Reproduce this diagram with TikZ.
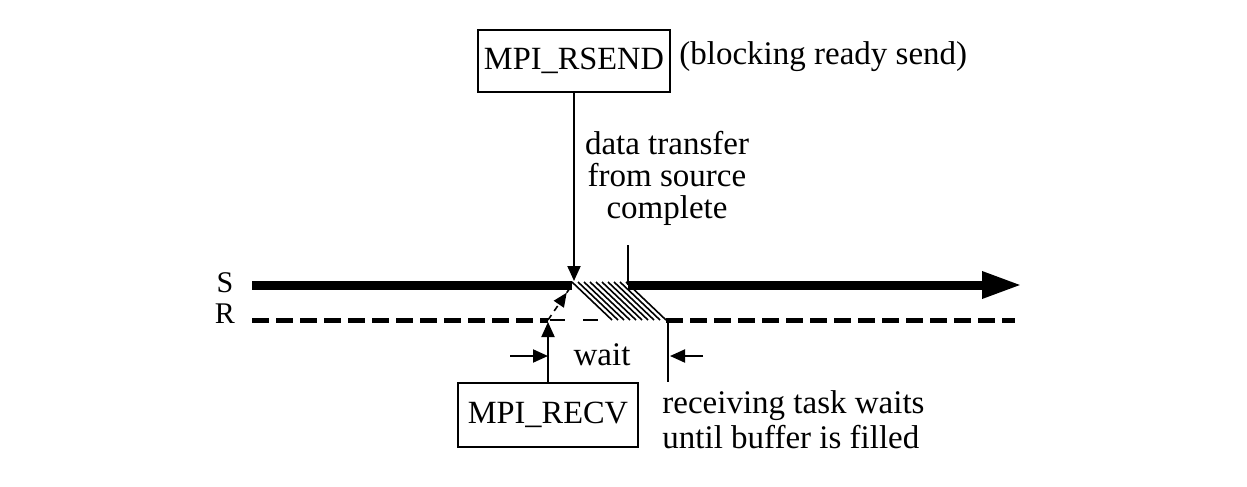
\documentclass[tikz,border=0pt]{standalone}
\usepackage{fontspec}
\setmainfont{Liberation Serif}
\usetikzlibrary{arrows.meta,decorations.markings}
\begin{document}
\begin{tikzpicture}[x=0.5pt,y=-0.5pt,
  txt/.style={font=\fontsize{16.5}{16}\selectfont, inner sep=0pt},
  lbl/.style={font=\fontsize{15}{15}\selectfont, inner sep=0pt},
  box/.style={draw, line width=1pt, inner sep=0pt, font=\fontsize{16.2}{16}\selectfont},
  thinln/.style={line width=1pt},
  tip/.style={-{Triangle[length=7.5pt,width=6.5pt]}},
  sline/.style={line width=4.5pt},
  rline/.style={line width=2.5pt, dash pattern=on 8.5pt off 3.5pt},
  hatchln/.style={line width=0.8pt}
]
\useasboundingbox (0,0) rectangle (1247,487);

% nodes
\node[box, minimum width=96pt, minimum height=31pt] (rsend) at (574,61) {MPI\_RSEND};
\node[txt, anchor=base west] (blk) at (679,64) {(blocking ready send)};
\node[box, minimum width=90pt, minimum height=32pt] (recv) at (548,415) {MPI\_RECV};
\node[txt, anchor=north, align=center] (dt) at (667,131) {data transfer\\from source\\complete};
\node[txt, anchor=base] (wait) at (602,365) {wait};
\node[txt, anchor=north west, align=left, font=\fontsize{16.5}{17.5}\selectfont] (rtw) at (662,390) {receiving task waits\\until buffer is filled};
\node[lbl, anchor=base] (S) at (225,292) {S};
\node[lbl, anchor=base] (R) at (225,323) {R};

% coordinates
\coordinate (s0) at (252,285);
\coordinate (sa) at (572,285);
\coordinate (sat) at (574,281);
\coordinate (sb) at (628,285);
\coordinate (s1) at (1022,285);
\coordinate (r0) at (252,320);
\coordinate (ra) at (548,320);
\coordinate (rat) at (548,322);
\coordinate (rb) at (612,320);
\coordinate (rc) at (666,320);
\coordinate (r1) at (1015,320);
\coordinate (cpl) at (628,245);
\coordinate (wl) at (510,356);
\coordinate (wr) at (703,356);
\coordinate (tk) at (668,320);
\coordinate (tkb) at (668,382);

% S line
\draw[sline] (s0) -- (sa);
\draw[sline, -{Triangle[length=20pt,width=12.5pt]}] (sb) -- (s1);

% R line
\draw[rline] (r0) -- (ra);
\draw[line width=0.8pt, dash pattern=on 7.5pt off 9pt] ([xshift=1pt]ra) -- (rb);
\draw[rline] (rc) -- (r1);

% hatch
\foreach \i in {0,...,9}
  \draw[hatchln] ({572+\i*6},282) -- ({612+\i*6},320);

% connectors
\draw[thinln] (cpl) -- (sb);
\draw[thinln, tip] (rsend.south -| sat) -- (sat);
\draw[thinln, tip] (recv.north) -- (rat);
\draw[line width=0.8pt, dash pattern=on 3pt off 2.5pt,
  postaction={decorate},
  decoration={markings, mark=at position 0.78 with {\arrow{Triangle[length=7pt,width=6pt]}}}]
  (ra) -- (sa);

% wait dimension
\draw[thinln, tip] (wl) -- (ra |- wl);
\draw[thinln, tip] (wr) -- ([xshift=1pt]tk |- wr);
\draw[thinln] (tk) -- (tkb);
\end{tikzpicture}
\end{document}
